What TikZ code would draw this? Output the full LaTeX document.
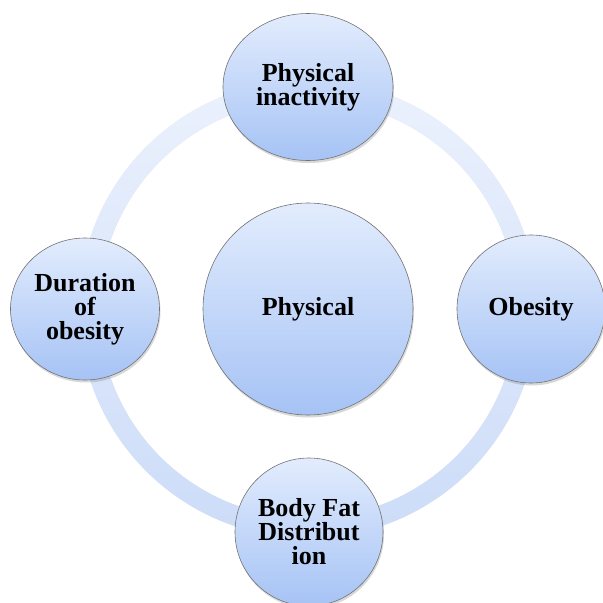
\documentclass[tikz,border=0pt]{standalone}
\usepackage{fontspec}
\setmainfont{Liberation Serif}
\usetikzlibrary{shapes.geometric,shadows}
\definecolor{ctop}{HTML}{E2ECFD}
\definecolor{cbot}{HTML}{A6C3F5}
\definecolor{rtop}{HTML}{EBF1FD}
\definecolor{rbot}{HTML}{CCDCF8}
\begin{document}
\begin{tikzpicture}[x=1pt,y=-1pt,
  bub/.style={ellipse, draw=black!55, line width=0.6pt, top color=ctop, bottom color=cbot,
    inner sep=0pt, align=center, font=\fontsize{26}{24}\selectfont\bfseries,
    drop shadow={opacity=0.3, shadow xshift=1pt, shadow yshift=-2.5pt}},
  ringshadow/.style={fill=black, opacity=0.12, even odd rule},
  ringfill/.style={top color=rtop, bottom color=rbot, even odd rule}]
\useasboundingbox[fill=white] (0,0) rectangle (603,603);
\coordinate (c) at (308,309);
\fill[ringshadow, shift={(1.5,2.5)}] (c) circle[radius=229pt] (c) circle[radius=209pt];
\shade[ringfill] (c) circle[radius=229pt] (c) circle[radius=209pt];
\node[bub, minimum width=210pt, minimum height=212pt] (ctr) at (308,309) {Physical};
\node[bub, minimum width=170pt, minimum height=147pt] (top) at (308,87) {Physical\\inactivity};
\node[bub, minimum width=149pt, minimum height=142pt] (lft) at (85,309) {Duration\\of\\obesity};
\node[bub, minimum width=148pt, minimum height=148pt] (rgt) at (531,309) {Obesity};
\node[bub, minimum width=148pt, minimum height=148pt] (bot) at (309,532) {Body Fat\\Distribut\\ion};
\end{tikzpicture}
\end{document}
